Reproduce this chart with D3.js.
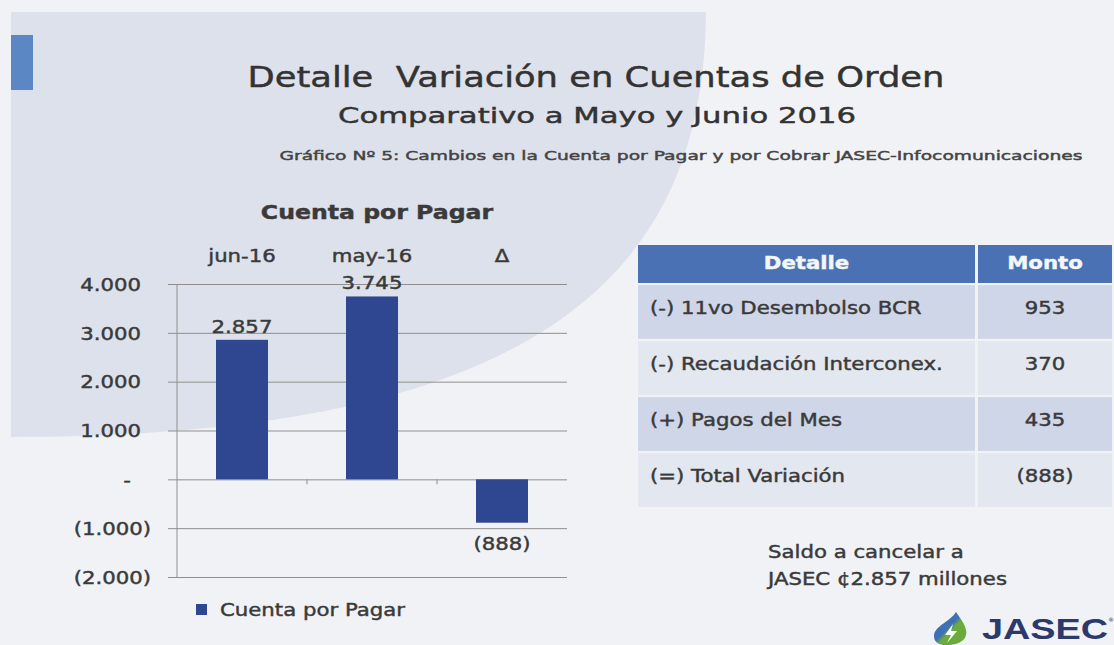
<!DOCTYPE html>
<html>
<head>
<meta charset="utf-8">
<script src="https://cdn.jsdelivr.net/npm/d3@7"></script>
<style>
    body { margin: 0; background: #f1f2f5; }
    svg { display: block; }
    text { font-family: "DejaVu Sans", sans-serif; fill: #3a3a3a; white-space: pre; }
</style>
</head>
<body>
<script>
const categories = ['jun-16', 'may-16', 'Δ'];
const values = [2857, 3745, -888];
const yTicks = [-2000, -1000, 0, 1000, 2000, 3000, 4000];
const seriesName = 'Cuenta por Pagar';
const tableHeader = ['Detalle', 'Monto'];
const detalle = ['(-) 11vo Desembolso BCR', '(-) Recaudación Interconex.', '(+) Pagos del Mes', '(=) Total Variación'];
const montos = [953, 370, 435, -888];
const nota = ['Saldo a cancelar a', 'JASEC ¢2.857 millones'];

const W = 1114, H = 645;
const K = 1.18; // the slide photo is stretched sideways

const svg = d3.select('body').append('svg')
    .attr('width', W)
    .attr('height', H);

const loc = d3.formatLocale({decimal: ',', thousands: '.', grouping: [3], currency: ['¢', '']});
const fmtN = loc.format(',.0f');
function acct(v) {
    if (v === 0) return '-';
    return v < 0 ? '(' + fmtN(-v) + ')' : fmtN(v);
}

function stretch(sel, k) {
    sel.each(function () {
        const l = this.getComputedTextLength();
        d3.select(this).attr('textLength', l * k).attr('lengthAdjust', 'spacingAndGlyphs');
    });
}

// background
svg.append('rect').attr('width', W).attr('height', H).attr('fill', '#f1f2f5');
svg.append('path')
    .attr('d', 'M11,12 L706,12 C704,270 545,437 11,437 Z')
    .attr('fill', '#dde1eb');
svg.append('rect')
    .attr('x', 11).attr('y', 35).attr('width', 22).attr('height', 55)
    .attr('fill', '#5b88c4');

// titles
svg.append('text')
    .attr('x', 596).attr('y', 87)
    .attr('text-anchor', 'middle')
    .style('font-size', '29px').style('fill', '#333')
    .attr('textLength', 697).attr('lengthAdjust', 'spacingAndGlyphs')
    .text('Detalle  Variación en Cuentas de Orden');
svg.append('text')
    .attr('x', 597).attr('y', 123)
    .attr('text-anchor', 'middle')
    .style('font-size', '22px').style('fill', '#333')
    .attr('textLength', 518).attr('lengthAdjust', 'spacingAndGlyphs')
    .text('Comparativo a Mayo y Junio 2016');
svg.append('text')
    .attr('x', 681).attr('y', 160)
    .attr('text-anchor', 'middle')
    .style('font-size', '13px').style('fill', '#444')
    .attr('textLength', 803).attr('lengthAdjust', 'spacingAndGlyphs')
    .text('Gráfico Nº 5: Cambios en la Cuenta por Pagar y por Cobrar JASEC-Infocomunicaciones');

// chart
const y = d3.scaleLinear().domain([-2000, 4000]).range([577, 284]);
const x = d3.scaleBand().domain(categories).range([177, 567])
    .paddingInner(0.6).paddingOuter(0.3);

svg.append('text')
    .attr('x', 377).attr('y', 219)
    .attr('text-anchor', 'middle')
    .style('font-size', '20px').style('font-weight', 'bold')
    .text(seriesName)
    .call(stretch, K);

const grid = svg.append('g')
    .attr('transform', 'translate(168,0)')
    .call(d3.axisLeft(y).tickValues(yTicks).tickSize(-399).tickPadding(0).tickFormat(acct));
grid.select('.domain').remove();
grid.selectAll('line').attr('stroke', '#8f8f8f');
grid.selectAll('text')
    .style('font-size', '18px')
    .style('font-family', null)
    .attr('fill', null)
    .attr('dy', '0.35em')
    .attr('x', d => d > 0 ? -27 : d < 0 ? -17 : -41)
    .attr('text-anchor', d => d === 0 ? 'middle' : 'end')
    .call(stretch, K);
grid.attr('font-family', null).attr('font-size', null);

svg.append('line')
    .attr('x1', 177).attr('x2', 177)
    .attr('y1', y.range()[1]).attr('y2', y.range()[0])
    .attr('stroke', '#8f8f8f');

svg.selectAll('.cat-tick')
    .data(categories.slice(0, -1))
    .enter().append('line')
    .attr('class', 'cat-tick')
    .attr('x1', d => x(d) + x.bandwidth() + x.step() * x.paddingInner() / 2)
    .attr('x2', d => x(d) + x.bandwidth() + x.step() * x.paddingInner() / 2)
    .attr('y1', y(0)).attr('y2', y(0) + 5)
    .attr('stroke', '#8f8f8f');

svg.selectAll('.cat-label')
    .data(categories)
    .enter().append('text')
    .attr('class', 'cat-label')
    .attr('x', d => x(d) + x.bandwidth() / 2)
    .attr('y', 262)
    .attr('text-anchor', 'middle')
    .style('font-size', '18px')
    .text(d => d)
    .call(stretch, K);

svg.selectAll('.bar')
    .data(values)
    .enter().append('rect')
    .attr('class', 'bar')
    .attr('x', (d, i) => x(categories[i]))
    .attr('y', d => y(Math.max(0, d)))
    .attr('width', x.bandwidth())
    .attr('height', d => Math.abs(y(d) - y(0)))
    .attr('fill', '#2e4790');

svg.selectAll('.val-label')
    .data(values)
    .enter().append('text')
    .attr('class', 'val-label')
    .attr('x', (d, i) => x(categories[i]) + x.bandwidth() / 2)
    .attr('y', d => d >= 0 ? y(d) - 7 : y(d) + 27)
    .attr('text-anchor', 'middle')
    .style('font-size', '18px')
    .text(d => acct(d))
    .call(stretch, K);

// legend
svg.append('rect')
    .attr('x', 196).attr('y', 604).attr('width', 11).attr('height', 11)
    .attr('fill', '#2e4790');
svg.append('text')
    .attr('x', 220).attr('y', 616)
    .style('font-size', '18px')
    .text(seriesName)
    .call(stretch, K);

// table
const colX = [638, 978], colW = [337, 134];
const rowY = d3.scaleBand().domain(d3.range(detalle.length)).range([285, 507]).paddingInner(0.04);

tableHeader.forEach((h, c) => {
    svg.append('rect')
        .attr('x', colX[c]).attr('y', 245).attr('width', colW[c]).attr('height', 38)
        .attr('fill', '#4a71b3');
    svg.append('text')
        .attr('x', colX[c] + colW[c] / 2).attr('y', 269)
        .attr('text-anchor', 'middle')
        .style('font-size', '18px').style('font-weight', 'bold').style('fill', '#f4f6fa')
        .text(h)
        .call(stretch, K);
});

const rows = svg.selectAll('.row')
    .data(detalle)
    .enter().append('g')
    .attr('class', 'row')
    .attr('transform', (d, i) => 'translate(0,' + rowY(i) + ')');

rows.each(function (d, i) {
    const g = d3.select(this);
    const fill = i % 2 === 0 ? '#cfd6e7' : '#e3e7f0';
    colX.forEach((cx, c) => {
        g.append('rect')
            .attr('x', cx).attr('width', colW[c]).attr('height', rowY.bandwidth())
            .attr('fill', fill);
    });
});

rows.append('text')
    .attr('x', 650).attr('y', 29)
    .style('font-size', '18px')
    .text(d => d)
    .call(stretch, K);

rows.append('text')
    .attr('x', colX[1] + colW[1] / 2).attr('y', 29)
    .attr('text-anchor', 'middle')
    .style('font-size', '18px')
    .text((d, i) => acct(montos[i]))
    .call(stretch, K);

// note
svg.selectAll('.nota')
    .data(nota)
    .enter().append('text')
    .attr('class', 'nota')
    .attr('x', 768)
    .attr('y', (d, i) => 558 + i * 27)
    .style('font-size', '18px')
    .text(d => d)
    .call(stretch, K);

// slightly heavier strokes, the photo's text looks semibold
svg.selectAll('text').each(function () {
    const t = d3.select(this);
    if (t.style('font-weight') === '700') return;
    t.style('stroke', t.style('fill')).style('stroke-width', '0.45px');
});

// logo
const defs = svg.append('defs');
const grad = defs.append('linearGradient').attr('id', 'drop')
    .attr('x1', 0).attr('y1', 0).attr('x2', 1).attr('y2', 1);
grad.append('stop').attr('offset', '0.45').attr('stop-color', '#3f6fb6');
grad.append('stop').attr('offset', '0.55').attr('stop-color', '#6aab3c');
svg.append('path')
    .attr('d', 'M956,612 C950,622 934,626 934,636 C934,644 942,646 950,645 C960,644 968,639 966,630 C965,624 960,618 956,612 Z')
    .attr('fill', 'url(#drop)');
svg.append('path')
    .attr('d', 'M953,624 L945,635 L951,635 L947,643 L957,631 L951,631 Z')
    .attr('fill', '#fff');
svg.append('text')
    .attr('x', 982).attr('y', 639)
    .style('font-family', '"Liberation Sans", Arial, sans-serif')
    .style('font-size', '30px').style('font-weight', 'bold').style('fill', '#2b3a6b')
    .attr('textLength', 126).attr('lengthAdjust', 'spacingAndGlyphs')
    .text('JASEC');
svg.append('text')
    .attr('x', 1108).attr('y', 622)
    .style('font-size', '6px').style('fill', '#2b3a6b')
    .text('®');
</script>
</body>
</html>
